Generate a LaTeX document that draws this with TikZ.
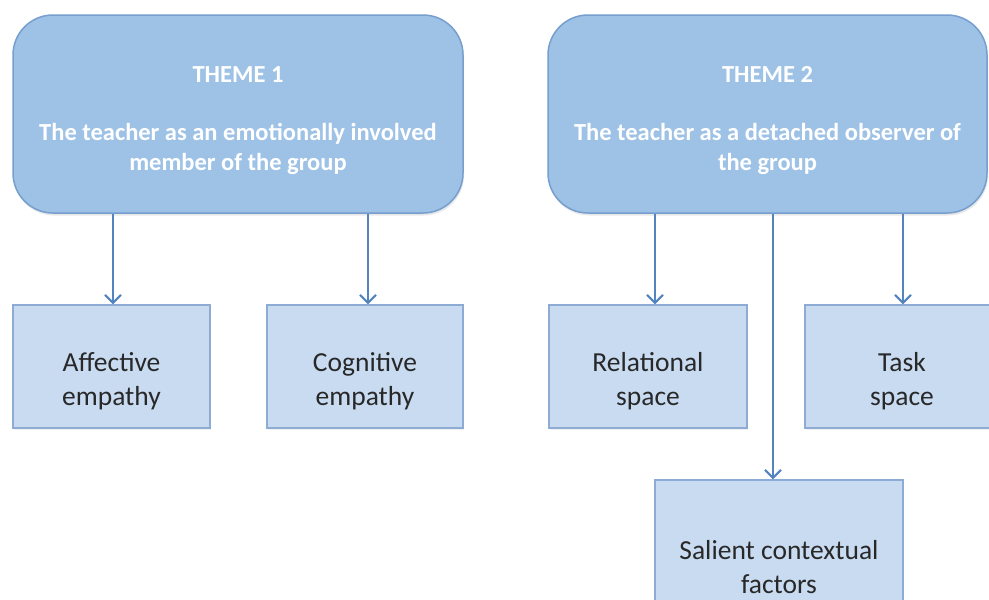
\documentclass[tikz,border=0pt]{standalone}
\usepackage{fontspec}
\setmainfont{Carlito}
\usetikzlibrary{arrows.meta,shadows}
\definecolor{themefill}{RGB}{158,194,230}
\definecolor{themeline}{RGB}{118,158,206}
\definecolor{subfill}{RGB}{200,219,241}
\definecolor{subline}{RGB}{140,172,212}
\definecolor{arrowc}{RGB}{84,132,192}
\definecolor{txt}{RGB}{40,40,40}
\tikzset{
  theme/.style={draw=themeline, fill=themefill, line width=1.5pt, rounded corners=40pt, inner sep=0pt,
    drop shadow={opacity=0.18, shadow xshift=1pt, shadow yshift=-2.5pt}},
  themetext/.style={text=white, font=\bfseries\fontsize{24.5}{30}\selectfont, align=center, inner sep=0pt},
  sub/.style={draw=subline, fill=subfill, line width=1.2pt, inner sep=0pt,
    drop shadow={opacity=0.12, shadow xshift=1pt, shadow yshift=-1.5pt}},
  subtext/.style={text=txt, font=\fontsize{27.5}{34}\selectfont, align=center, inner sep=0pt},
  conn/.style={draw=arrowc, line width=2.2pt, -{Straight Barb[length=8pt,width=16pt,line width=2.2pt]}}
}
\begin{document}
\begin{tikzpicture}[x=1pt,y=-1pt]
\useasboundingbox (0,0) rectangle (989,600);
\clip (0,0) rectangle (989,600);
\node[theme, minimum width=450pt, minimum height=198pt] (t1) at (238,114) {};
\node[themetext] (t1txt) at ([yshift=-7pt]t1.center)
  {THEME 1\\[28pt]The teacher as an emotionally involved\\member of the group};
\node[theme, minimum width=439pt, minimum height=198pt] (t2) at (767.5,114) {};
\node[themetext] (t2txt) at ([yshift=-7pt]t2.center)
  {THEME 2\\[28pt]The teacher as a detached observer of\\the group};
\node[sub, minimum width=197pt, minimum height=123pt] (aff) at (111.5,366.5) {};
\node[subtext] (afftxt) at ([yshift=-15pt]aff.center) {Affective\\empathy};
\node[sub, minimum width=196pt, minimum height=123pt] (cog) at (365,366.5) {};
\node[subtext] (cogtxt) at ([yshift=-15pt]cog.center) {Cognitive\\empathy};
\node[sub, minimum width=198pt, minimum height=123pt] (rel) at (648,366.5) {};
\node[subtext] (reltxt) at ([yshift=-15pt]rel.center) {Relational\\space};
\node[sub, minimum width=194pt, minimum height=123pt] (task) at (902,366.5) {};
\node[subtext] (tasktxt) at ([yshift=-15pt]task.center) {Task\\space};
\node[sub, minimum width=248pt, minimum height=174pt] (sal) at (779,567) {};
\node[subtext] (saltxt) at ([yshift=0pt]sal.center) {Salient contextual\\factors};
\draw[conn] ([xshift=1.5pt]aff.north |- t1.south) -- ([xshift=1.5pt]aff.north);
\draw[conn] ([xshift=3pt]cog.north |- t1.south) -- ([xshift=3pt]cog.north);
\draw[conn] ([xshift=7pt]rel.north |- t2.south) -- ([xshift=7pt]rel.north);
\draw[conn] ([xshift=1pt]task.north |- t2.south) -- ([xshift=1pt]task.north);
\draw[conn] ([xshift=-6pt]sal.north |- t2.south) -- ([xshift=-6pt]sal.north);
\end{tikzpicture}
\end{document}
